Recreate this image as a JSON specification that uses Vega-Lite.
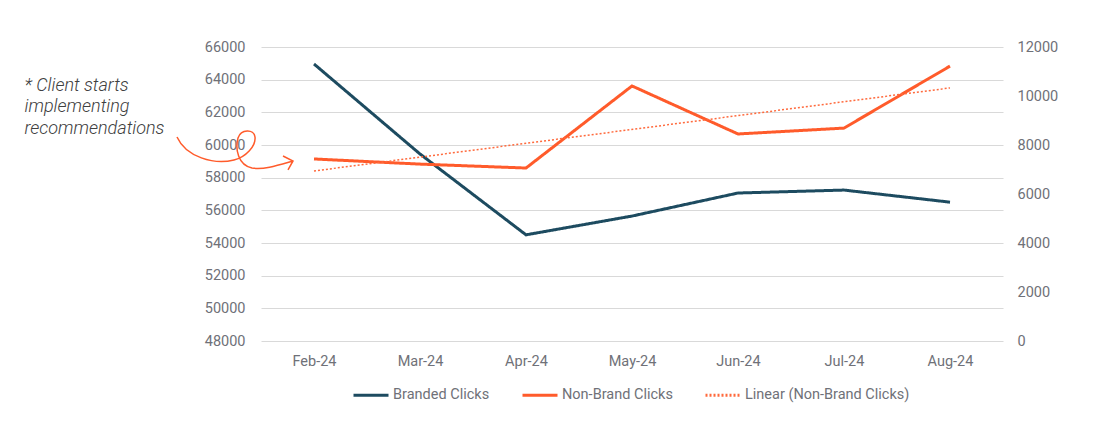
{
  "$schema": "https://vega.github.io/schema/vega-lite/v6.json",
  "width": 742,
  "height": 294,
  "autosize": {"type": "none"},
  "padding": {"left": 261, "top": 47, "right": 111, "bottom": 83},
  "background": "white",
  "config": {
    "font": "Roboto",
    "view": {"stroke": null},
    "axis": {"labelFont": "Roboto", "labelFontSize": 14.5, "labelColor": "#6f7178", "domain": false, "ticks": false, "tickSize": 0, "gridColor": "#d9d9d9", "gridWidth": 1}
  },
  "data": {
    "values": [
      {"month": "Feb-24", "series": "Branded Clicks", "value": 64960},
      {"month": "Mar-24", "series": "Branded Clicks", "value": 59450},
      {"month": "Apr-24", "series": "Branded Clicks", "value": 54500},
      {"month": "May-24", "series": "Branded Clicks", "value": 55650},
      {"month": "Jun-24", "series": "Branded Clicks", "value": 57060},
      {"month": "Jul-24", "series": "Branded Clicks", "value": 57240},
      {"month": "Aug-24", "series": "Branded Clicks", "value": 56500},
      {"month": "Feb-24", "series": "Non-Brand Clicks", "value": 7430},
      {"month": "Mar-24", "series": "Non-Brand Clicks", "value": 7220},
      {"month": "Apr-24", "series": "Non-Brand Clicks", "value": 7060},
      {"month": "May-24", "series": "Non-Brand Clicks", "value": 10410},
      {"month": "Jun-24", "series": "Non-Brand Clicks", "value": 8450},
      {"month": "Jul-24", "series": "Non-Brand Clicks", "value": 8690},
      {"month": "Aug-24", "series": "Non-Brand Clicks", "value": 11220},
      {"month": "Feb-24", "series": "Linear (Non-Brand Clicks)", "value": 6940},
      {"month": "Aug-24", "series": "Linear (Non-Brand Clicks)", "value": 10330}
    ]
  },
  "encoding": {
    "x": {
      "field": "month",
      "type": "ordinal",
      "sort": ["Feb-24", "Mar-24", "Apr-24", "May-24", "Jun-24", "Jul-24", "Aug-24"],
      "scale": {"type": "point", "padding": 0.5, "domain": ["Feb-24", "Mar-24", "Apr-24", "May-24", "Jun-24", "Jul-24", "Aug-24"]},
      "axis": {"title": null, "labelAngle": 0, "labelPadding": 13, "grid": false}
    }
  },
  "layer": [
    {
      "transform": [{"filter": "datum.series === 'Branded Clicks'"}],
      "mark": {"type": "line", "strokeWidth": 3, "strokeCap": "butt"},
      "encoding": {
        "y": {
          "field": "value",
          "type": "quantitative",
          "scale": {"domain": [48000, 66000], "nice": false, "zero": false},
          "axis": {
            "orient": "left",
            "values": [48000, 50000, 52000, 54000, 56000, 58000, 60000, 62000, 64000, 66000],
            "format": "d",
            "labelPadding": 16,
            "grid": true,
            "title": ["* Client starts", "implementing", "recommendations"],
            "titleAngle": 0,
            "titleAlign": "left",
            "titleBaseline": "alphabetic",
            "titleX": -237,
            "titleY": 43,
            "titleFont": "Roboto",
            "titleFontSize": 18,
            "titleFontStyle": "italic",
            "titleFontWeight": 300,
            "titleColor": "#404040",
            "titleLineHeight": 21.5
          }
        },
        "color": {
          "field": "series",
          "type": "nominal",
          "scale": {"domain": ["Branded Clicks", "Non-Brand Clicks", "Linear (Non-Brand Clicks)"], "range": ["#1d4b60", "#ff5b2b", "#ff6a3d"]},
          "legend": {
            "title": null,
            "orient": "none",
            "direction": "horizontal",
            "legendX": 91,
            "legendY": 329,
            "symbolType": "stroke",
            "symbolSize": 1225,
            "symbolStrokeWidth": 3,
            "labelFont": "Roboto",
            "labelFontSize": 14.5,
            "labelColor": "#6f7178",
            "labelOffset": 3,
            "labelLimit": 400,
            "columnPadding": 26
          }
        },
        "strokeDash": {
          "field": "series",
          "type": "nominal",
          "scale": {"domain": ["Branded Clicks", "Non-Brand Clicks", "Linear (Non-Brand Clicks)"], "range": [[1, 0], [1, 0], [2, 2]]},
          "legend": {"title": null}
        }
      }
    },
    {
      "layer": [
        {
          "transform": [{"filter": "datum.series === 'Non-Brand Clicks'"}],
          "mark": {"type": "line", "strokeWidth": 3, "strokeCap": "butt"},
          "encoding": {
            "y": {
              "field": "value",
              "type": "quantitative",
              "scale": {"domain": [0, 12000], "nice": false},
              "axis": {
                "orient": "right",
                "values": [0, 2000, 4000, 6000, 8000, 10000, 12000],
                "format": "d",
                "labelPadding": 14,
                "grid": false,
                "title": null
              }
            },
            "color": {"field": "series", "type": "nominal"},
            "strokeDash": {"field": "series", "type": "nominal"}
          }
        },
        {
          "transform": [{"filter": "datum.series === 'Linear (Non-Brand Clicks)'"}],
          "mark": {"type": "line", "strokeWidth": 1.5, "strokeCap": "butt"},
          "encoding": {
            "y": {"field": "value", "type": "quantitative"},
            "color": {"field": "series", "type": "nominal"},
            "strokeDash": {"field": "series", "type": "nominal"}
          }
        },
        {
          "transform": [{"filter": "datum.series === 'Non-Brand Clicks' && datum.month === 'Feb-24'"}],
          "mark": {
            "type": "point",
            "shape": "M-137,-22 C-128,-2 -100,6 -80,1 C-68,-2 -58,-13 -59,-22 C-60,-30 -73,-30 -76,-21 C-79,-10 -76,6 -62,9 C-50,11 -35,6 -21,2 M-31,-3 L-21,2 L-26,11",
            "size": 4,
            "filled": false,
            "stroke": "#ff5b2b",
            "strokeWidth": 1.5,
            "opacity": 1
          },
          "encoding": {
            "y": {"field": "value", "type": "quantitative"}
          }
        }
      ]
    }
  ],
  "resolve": {"scale": {"y": "independent"}}
}
